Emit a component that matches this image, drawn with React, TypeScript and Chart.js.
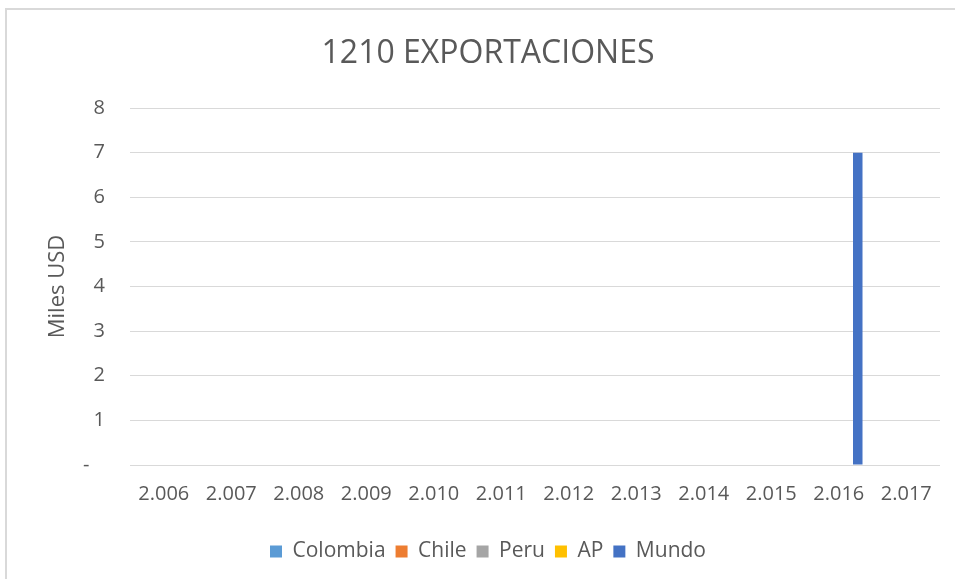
import React, { useEffect, useRef } from "react";
import { Chart, registerables } from "chart.js";

Chart.register(...registerables);

const categories = ["2.006", "2.007", "2.008", "2.009", "2.010", "2.011", "2.012", "2.013", "2.014", "2.015", "2.016", "2.017"];
const colombia = [0, 0, 0, 0, 0, 0, 0, 0, 0, 0, 0, 0];
const chile = [0, 0, 0, 0, 0, 0, 0, 0, 0, 0, 0, 0];
const peru = [0, 0, 0, 0, 0, 0, 0, 0, 0, 0, 0, 0];
const ap = [0, 0, 0, 0, 0, 0, 0, 0, 0, 0, 0, 0];
const mundo = [0, 0, 0, 0, 0, 0, 0, 0, 0, 0, 7, 0];
const yTicks = [0, 1, 2, 3, 4, 5, 6, 7, 8];

const FONT = "'Open Sans', sans-serif";
const TEXT = "#595959";

export default function App() {
  const ref = useRef<HTMLCanvasElement | null>(null);
  useEffect(() => {
    if (!ref.current) return;
    const mk = (label: string, data: number[], color: string) => ({
      label,
      data,
      backgroundColor: color,
      borderWidth: 0,
      categoryPercentage: 0.704,
      barPercentage: 1,
    });
    const chart = new Chart(ref.current, {
      type: "bar",
      data: {
        labels: categories,
        datasets: [
          mk("Colombia", colombia, "#5B9BD5"),
          mk("Chile", chile, "#ED7D31"),
          mk("Peru", peru, "#A5A5A5"),
          mk("AP", ap, "#FFC000"),
          mk("Mundo", mundo, "#4472C4"),
        ],
      },
      options: {
        animation: false,
        responsive: false,
        maintainAspectRatio: false,
        layout: { padding: { left: 36, right: 15, top: 0, bottom: 7 } },
        plugins: {
          title: {
            display: true,
            text: "1210 EXPORTACIONES",
            color: TEXT,
            font: { family: FONT, size: 32, weight: "normal" },
            padding: { top: 35, bottom: 34.6 },
          },
          legend: {
            position: "bottom",
            labels: {
              color: TEXT,
              font: { family: FONT, size: 21 },
              boxWidth: 12,
              boxHeight: 12,
              padding: 10,
            },
          },
          tooltip: { enabled: false },
        },
        scales: {
          x: {
            grid: { display: false, drawTicks: false },
            border: { display: false },
            ticks: { color: TEXT, font: { family: FONT, size: 20 }, padding: 17, maxRotation: 0, autoSkip: false },
            afterFit: (s: any) => { s.height = 66; },
          },
          y: {
            min: 0,
            max: 8,
            afterBuildTicks: (s: any) => { s.ticks = yTicks.map((v) => ({ value: v })); },
            grid: { color: "#d9d9d9", lineWidth: 1, drawTicks: false },
            border: { display: false },
            ticks: {
              color: TEXT,
              font: { family: FONT, size: 20 },
              padding: 25,
              callback: (v: any) => (Number(v) === 0 ? "-   " : String(v)),
            },
            title: {
              display: true,
              text: "Miles USD",
              color: TEXT,
              font: { family: FONT, size: 22 },
              padding: { top: 9, bottom: 0 },
            },
            afterFit: (s: any) => { s.width = 94; },
          },
        },
      },
    });
    return () => chart.destroy();
  }, []);
  return (
    <div style={{ position: "fixed", left: 0, top: 0, width: 955, height: 579, background: "#fff", overflow: "hidden" }}>
      <canvas ref={ref} width={955} height={579} style={{ display: "block" }} />
      <div
        style={{
          position: "absolute",
          left: 5,
          top: 8,
          width: 960,
          height: 600,
          borderTop: "2px solid #d9d9d9",
          borderLeft: "2px solid #d9d9d9",
          pointerEvents: "none",
        }}
      />
    </div>
  );
}
